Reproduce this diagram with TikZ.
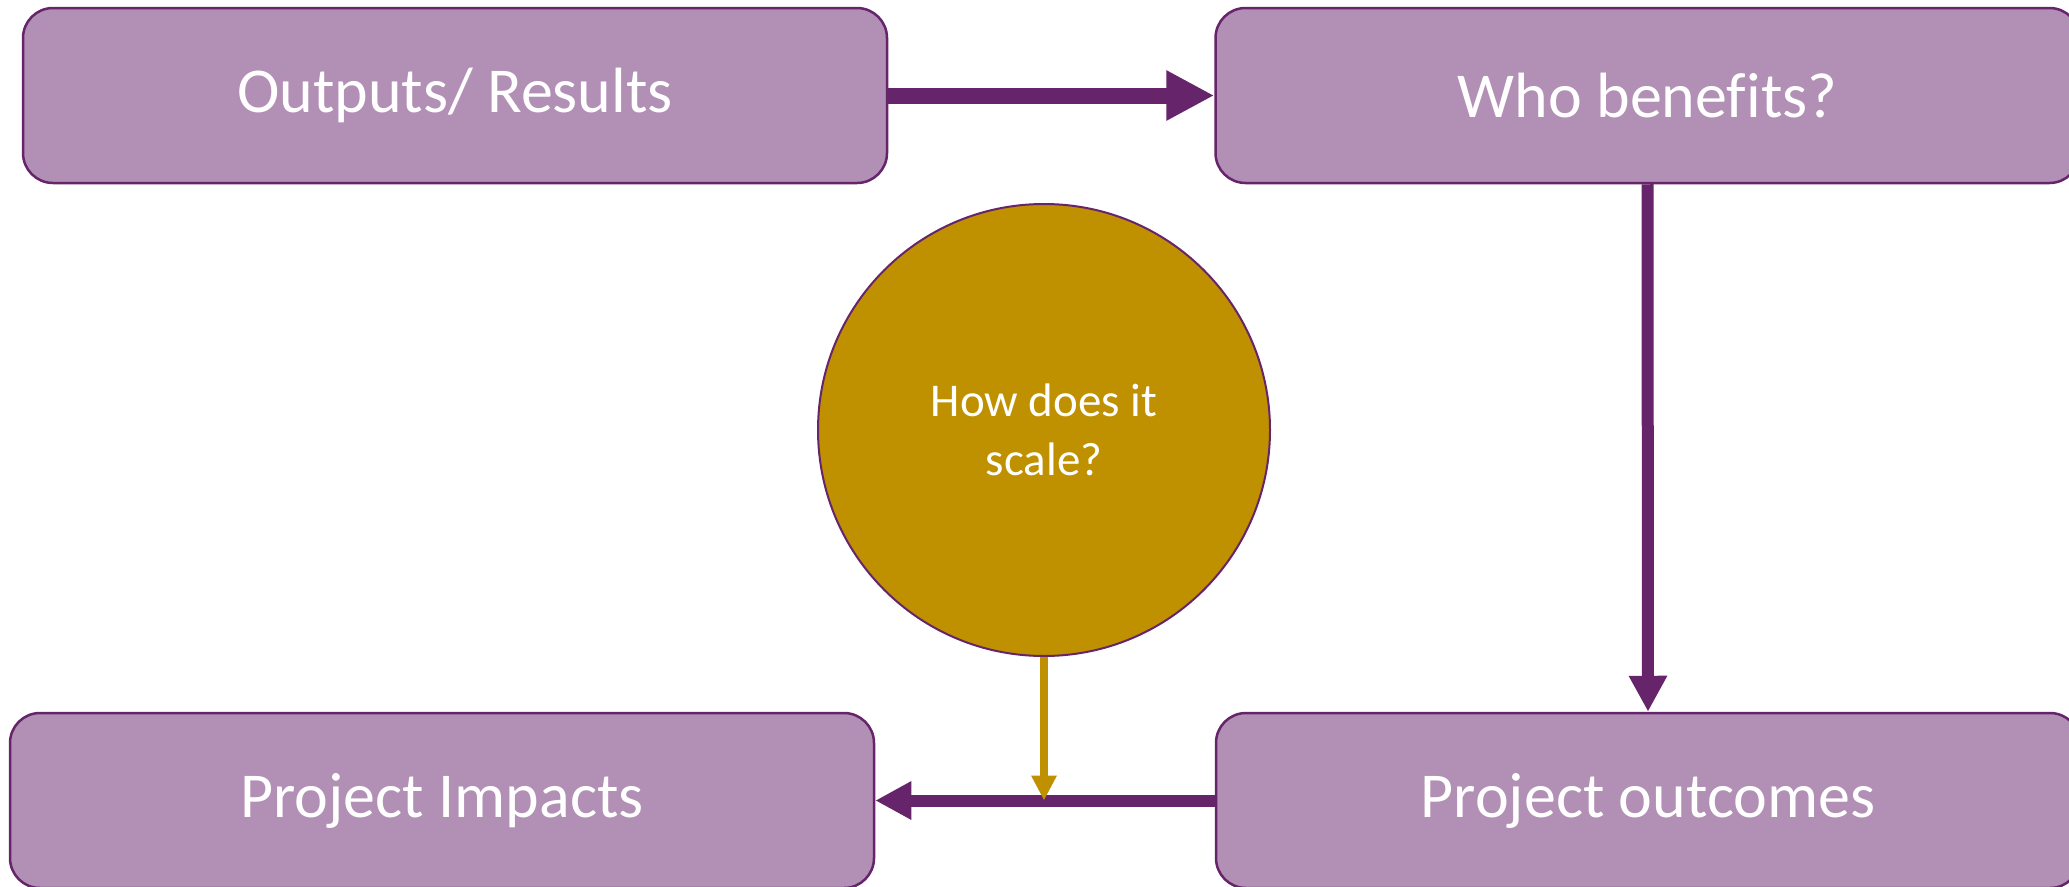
\documentclass[tikz,border=0pt]{standalone}
\usepackage{fontspec}
\setmainfont{Carlito}[Ligatures=NoCommon]
\usetikzlibrary{arrows.meta}
\definecolor{boxfill}{RGB}{178,143,181}
\definecolor{purp}{RGB}{102,36,106}
\definecolor{gold}{RGB}{191,144,0}
\tikzset{
  box/.style={rectangle, rounded corners=30pt, draw=purp, line width=2.5pt, fill=boxfill,
    minimum width=864pt, minimum height=175pt, inner sep=0pt, text=white,
    font=\fontsize{64}{77}\selectfont},
  circ/.style={circle, draw=purp, line width=2pt, fill=gold, minimum size=452pt, inner sep=0pt,
    text=white, align=center, font=\fontsize{47}{59}\selectfont},
  bigarrow/.style={draw=purp, line width=16pt, -{Triangle[length=48pt,width=47pt]}},
  midarrow/.style={draw=purp, line width=12pt, -{Triangle[length=36pt,width=36pt]}},
  goldarrow/.style={draw=gold, line width=8pt, -{Triangle[length=25pt,width=24pt]}}
}
\begin{document}
\begin{tikzpicture}[x=1pt,y=-1pt]
\useasboundingbox (0,0) rectangle (2069,886);
\clip (0,0) rectangle (2069,886);
\node[box] (out) at (455,95.5) {Outputs/ Results};
\node[box] (who) at (1647.5,95.5) {Who benefits?};
\node[box] (imp) at (442,800.5) {Project Impacts};
\node[box] (pout) at (1648,800.5) {Project outcomes};
\node[circ] (sc) at (1044,430) {How does it\\scale?};
\draw[bigarrow] (out.east) -- (who.west);
\draw[midarrow] (who.south) -- (pout.north);
\draw[midarrow] (pout.west) -- (imp.east);
\coordinate (m) at (sc.south |- imp.east);
\draw[goldarrow] (sc.south) -- (m);
\end{tikzpicture}
\end{document}
